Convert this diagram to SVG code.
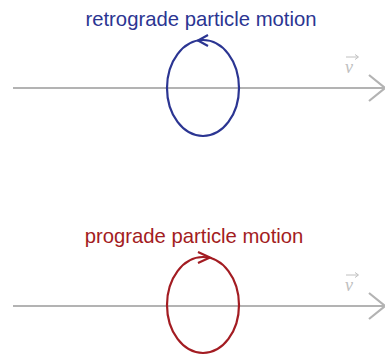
<svg xmlns="http://www.w3.org/2000/svg" width="385" height="356" viewBox="0 0 385 356">
<style>
.axis{stroke:#b3b3b3;stroke-width:2.2;fill:none}
.lbl{font-family:"Liberation Sans",Arial,sans-serif;font-size:20.3px;text-anchor:middle}
.v{font-family:"Liberation Serif","Times New Roman",serif;font-style:italic;font-size:18px;fill:#c0c0c0;text-anchor:middle}
.retro{stroke:#2b3592;stroke-width:2.2;fill:none}
.pro{stroke:#a31c22;stroke-width:2.2;fill:none}
</style>
<g id="connectors">
<line class="axis" x1="13" y1="88" x2="384" y2="88"/>
<polyline class="axis" points="369,75 385,88 369,101"/>
<line class="axis" x1="13" y1="306" x2="384" y2="306"/>
<polyline class="axis" points="369,293 385,306 369,319"/>
</g>
<g id="v-top"><text class="v" x="349" y="73">v</text><path d="M346,57 H358 M355,54.5 L358.5,57 L355,59.5" stroke="#c0c0c0" stroke-width="1" fill="none"/></g>
<g id="v-bottom"><text class="v" x="349" y="291">v</text><path d="M346,275 H358 M355,272.5 L358.5,275 L355,277.5" stroke="#c0c0c0" stroke-width="1" fill="none"/></g>
<g id="retrograde">
<text class="lbl" x="201" y="25.5" fill="#2b3592">retrograde particle motion</text>
<ellipse class="retro" cx="203" cy="88" rx="36" ry="48"/>
<polyline class="retro" points="208,35 198,40.5 208,46"/>
</g>
<g id="prograde">
<text class="lbl" x="194" y="243" fill="#a31c22">prograde particle motion</text>
<ellipse class="pro" cx="203" cy="305" rx="36" ry="48"/>
<polyline class="pro" points="198,252 210,257.5 198,263"/>
</g>
</svg>
